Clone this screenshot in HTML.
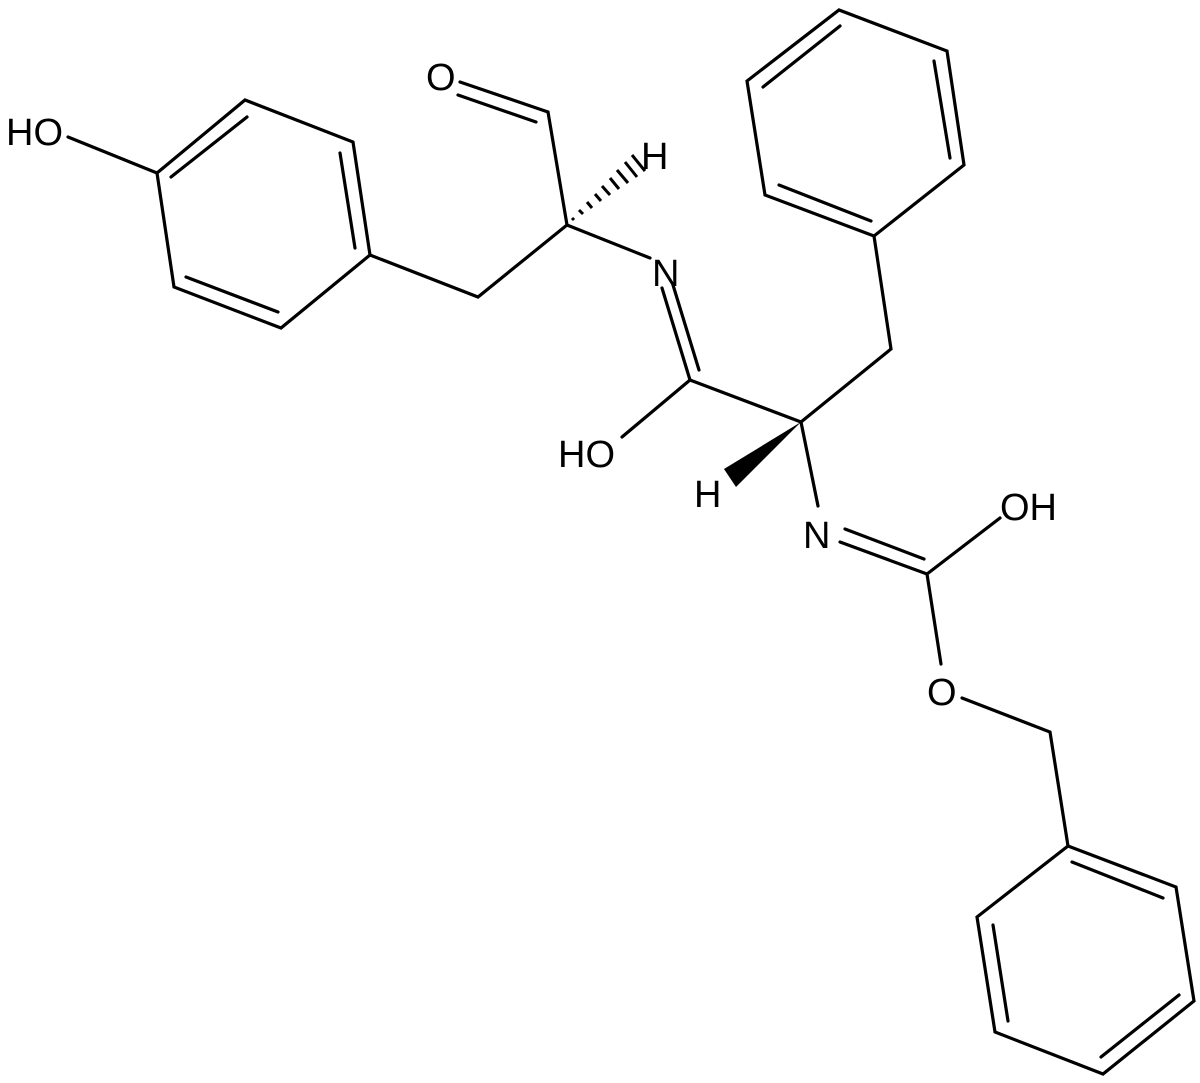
<!DOCTYPE html>
<html><head><style>html,body{margin:0;padding:0;background:#fff}svg{display:block}</style></head><body>
<svg width="1200" height="1083" viewBox="0 0 1200 1083" xmlns="http://www.w3.org/2000/svg">
<g stroke="#000" stroke-width="3.2" fill="none" stroke-linecap="round">
<polyline points="157,173 245,100 353,142 370,255 281,328 174,287 157,173"/>
<line x1="171" y1="177" x2="247" y2="117"/>
<line x1="340" y1="153" x2="355" y2="248"/>
<line x1="186" y1="277" x2="278" y2="312"/>
<line x1="68" y1="137" x2="157" y2="173"/>
<polyline points="370,255 478,297 567,225 548,112"/>
<line x1="548" y1="112" x2="460" y2="82"/>
<line x1="536" y1="122" x2="458" y2="95"/>
<line x1="567" y1="225" x2="650" y2="258"/>
<line x1="662" y1="288" x2="690" y2="380"/>
<line x1="673" y1="285" x2="699" y2="370"/>
<line x1="690" y1="380" x2="622" y2="437"/>
<line x1="690" y1="380" x2="801" y2="422"/>
<polyline points="801,422 891,349 874,236 964,165 947,51 839,10 747,81 765,195 874,236"/>
<line x1="840" y1="26" x2="763" y2="87"/>
<line x1="934" y1="61" x2="950" y2="158"/>
<line x1="779" y1="185" x2="871" y2="221"/>
<line x1="801" y1="422" x2="818" y2="506"/>
<line x1="840" y1="542" x2="927" y2="574"/>
<line x1="845" y1="529" x2="924" y2="559"/>
<line x1="927" y1="574" x2="1000" y2="518"/>
<line x1="927" y1="574" x2="941" y2="664"/>
<polyline points="962,698 1050,732 1068,846"/>
<polyline points="1068,846 1176,887 1194,1001 1103,1074 995,1032 977,917 1068,846"/>
<line x1="1072" y1="862" x2="1163" y2="898"/>
<line x1="1179" y1="995" x2="1101" y2="1057"/>
<line x1="993" y1="925" x2="1008" y2="1021"/>
</g>
<g stroke="#000" stroke-width="3">
<line x1="572" y1="218" x2="574" y2="220"/>
<line x1="579" y1="210" x2="583" y2="214"/>
<line x1="587" y1="202" x2="592" y2="208"/>
<line x1="595" y1="194" x2="601" y2="201"/>
<line x1="602" y1="186" x2="610" y2="195"/>
<line x1="610" y1="178" x2="619" y2="189"/>
<line x1="617" y1="170" x2="628" y2="183"/>
<line x1="625" y1="162" x2="637" y2="177"/>
<line x1="632" y1="155" x2="645" y2="171"/>
</g>
<polygon points="801,422 724,469 736,487" fill="#000"/>
<g font-family="Liberation Sans, Arial, sans-serif" font-size="38" fill="#000">
<text x="6" y="145">HO</text>
<text x="426" y="90">O</text>
<text x="641" y="169">H</text>
<text x="652" y="286">N</text>
<text x="558" y="467">HO</text>
<text x="694" y="507">H</text>
<text x="803" y="548">N</text>
<text x="1000" y="520">OH</text>
<text x="927" y="705">O</text>
</g>
</svg>
</body></html>
